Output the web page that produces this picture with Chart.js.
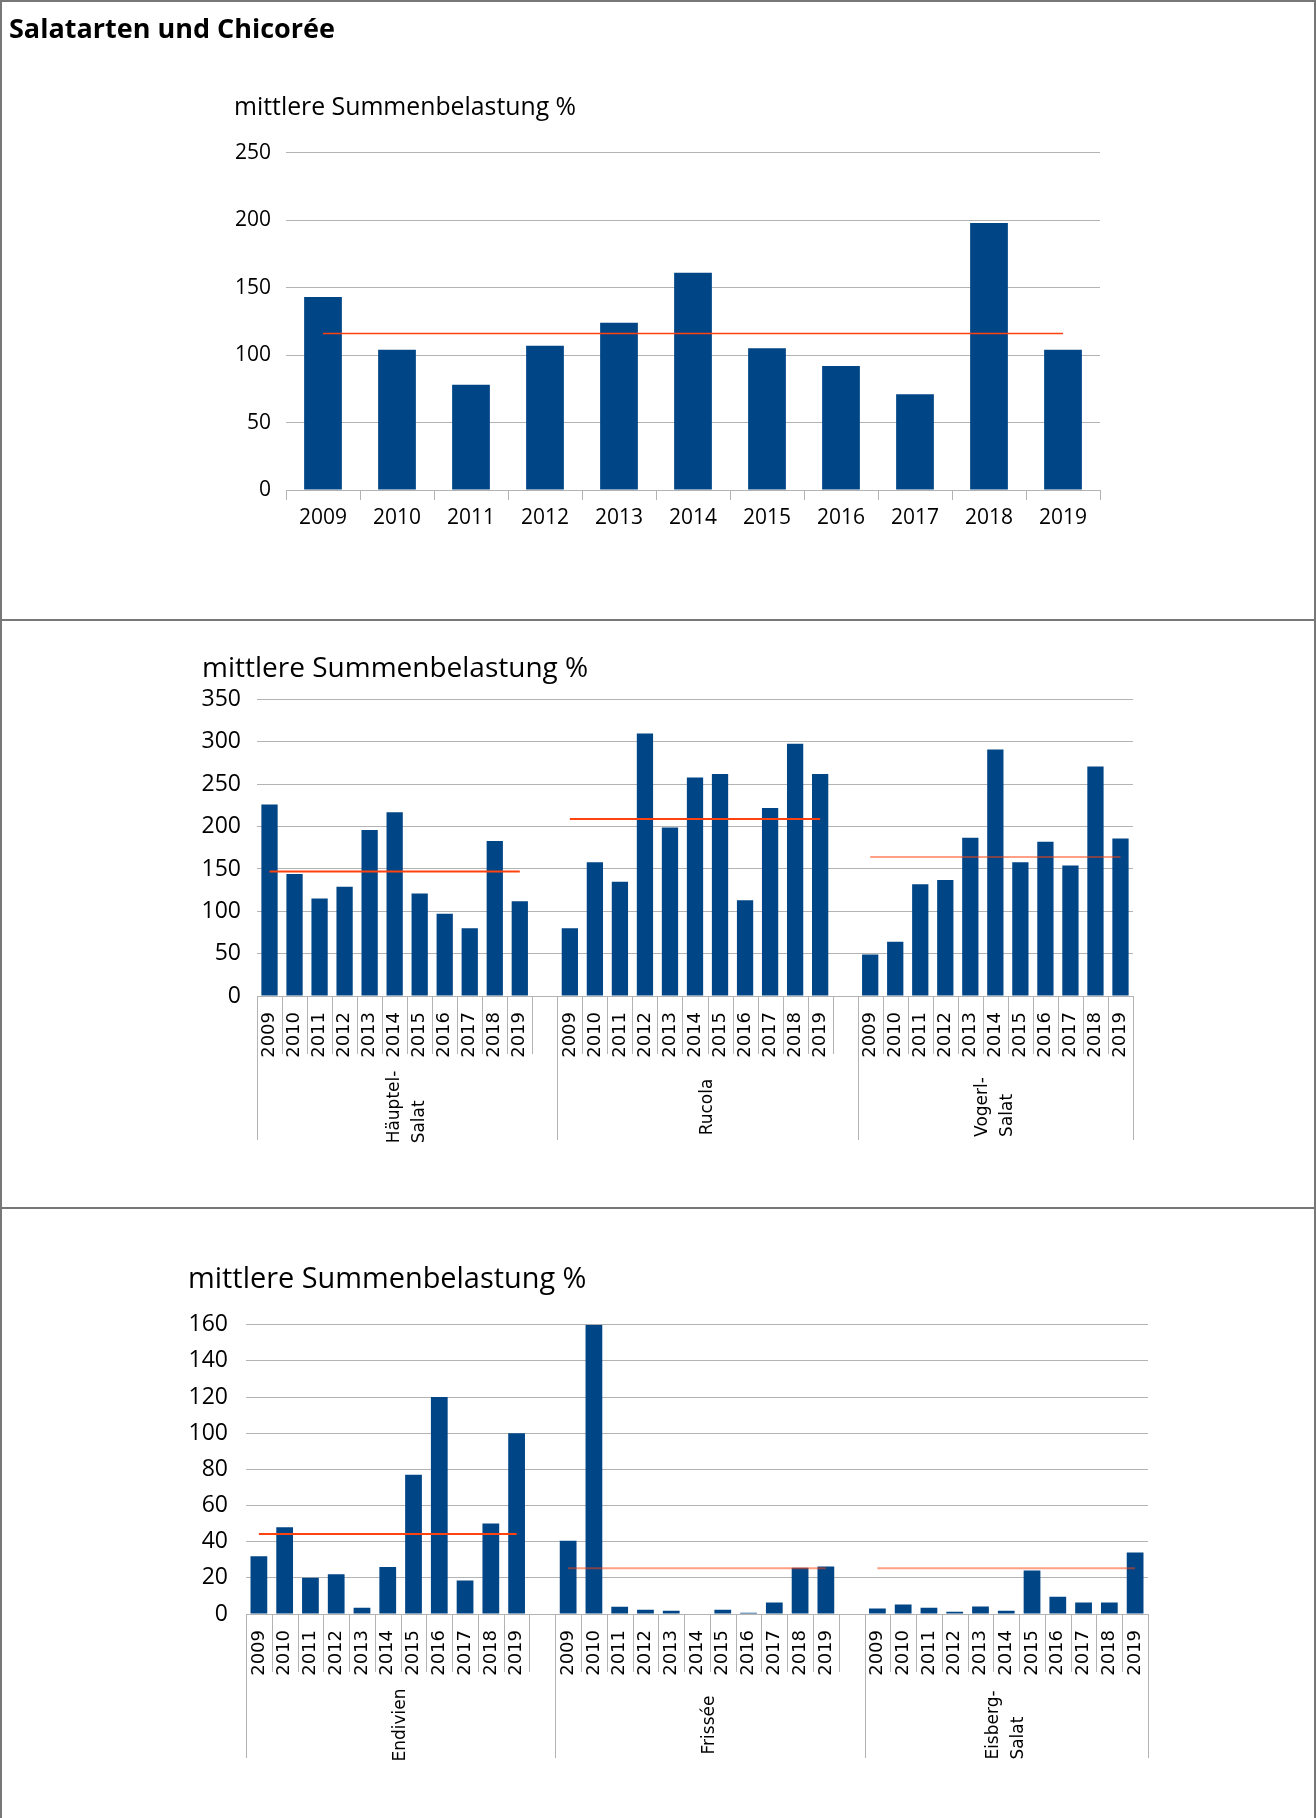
<!DOCTYPE html>
<html lang="de">
<head>
<meta charset="UTF-8">
<title>Salatarten und Chicorée</title>
<style>
  * { margin: 0; padding: 0; box-sizing: border-box; }
  body {
    width: 1316px;
    height: 1818px;
    position: relative;
    overflow: hidden;
    background: #fff;
    font-family: 'Open Sans', sans-serif;
  }
  canvas { position: absolute; left: 0; }
  h1 {
    position: absolute;
    left: 9px;
    top: 13px;
    font-size: 27px;
    line-height: 30px;
    font-weight: 700;
    color: #000;
  }
  .rahmen {
    position: absolute;
    left: 0;
    top: 0;
    width: 1316px;
    height: 1818px;
    border: 2px solid #777;
    border-bottom: none;
    pointer-events: none;
  }
  .trenner {
    position: absolute;
    left: 0;
    width: 1316px;
    height: 2px;
    background: #777;
  }
</style>
</head>
<body>
  <canvas id="chartGesamt" width="1316" height="620" style="top:0"></canvas>
  <canvas id="chartBlatt" width="1316" height="588" style="top:620px"></canvas>
  <canvas id="chartEndivie" width="1316" height="610" style="top:1208px"></canvas>

  <h1>Salatarten und Chicorée</h1>
  <div class="rahmen"></div>
  <div class="trenner" style="top:619px"></div>
  <div class="trenner" style="top:1207px"></div>

<script src="https://cdn.jsdelivr.net/npm/chart.js@4/dist/chart.umd.min.js"></script>
<script>
// Jahre
const jahre = ['2009', '2010', '2011', '2012', '2013', '2014', '2015', '2016', '2017', '2018', '2019'];

// Salatarten gesamt
const gesamt = [143, 104, 78, 107, 124, 161, 105, 92, 71, 198, 104];
const gesamtMittel = 116;

// Häuptel-Salat, Rucola, Vogerl-Salat
const blattGruppen = [['Häuptel-', 'Salat'], ['Rucola'], ['Vogerl-', 'Salat']];
const haeuptel = [226, 144, 115, 129, 196, 217, 121, 97, 80, 183, 112];
const rucola = [80, 158, 135, 310, 199, 258, 262, 113, 222, 298, 262];
const vogerl = [49, 64, 132, 137, 187, 291, 158, 182, 154, 271, 186];
const blattMittel = [147, 209, 164];

// Endivien, Frissée, Eisberg-Salat
const endivGruppen = [['Endivien'], ['Frissée'], ['Eisberg-', 'Salat']];
const endivien = [32, 48, 20, 22, 3.5, 26, 77, 120, 18.5, 50, 100];
const frissee = [40.5, 160, 4, 2.4, 1.8, 0, 2.4, 0.7, 6.3, 25.6, 26.2];
const eisberg = [3, 5.2, 3.5, 1.3, 4.1, 1.8, 24, 9.6, 6.3, 6.3, 34];
const endivMittel = [44.3, 25.3, 25.3];

const BLAU = '#004586';
const ROT = '#ff420e';
const ROT_HALB = 'rgba(255, 66, 14, 0.5)';
const GITTER = '#b3b3b3';
const SCHRIFT = "'Open Sans', sans-serif";
const SCHRIFT_ACHSE = "'DejaVu Sans', sans-serif";

Chart.defaults.color = '#000';
Chart.defaults.animation = false;

// zweistufige Kategorienachse: Zelllinien, Gruppenlinien und Gruppennamen
const gruppenAchse = {
  id: 'gruppenAchse',
  afterDraw(chart, args, opts) {
    if (!opts.gruppen) return;
    const x = chart.scales.x;
    const ctx = chart.ctx;
    const n = chart.data.labels.length;
    const schritt = x.getPixelForValue(1) - x.getPixelForValue(0);
    const kante = i => x.getPixelForValue(i) - schritt / 2;
    const y0 = x.top;
    const proGruppe = jahre.length + 1;

    ctx.save();
    ctx.strokeStyle = GITTER;
    ctx.lineWidth = 1;
    ctx.beginPath();
    for (let i = 0; i <= n; i++) {
      const px = Math.round(kante(i)) + 0.5;
      const tief = (i % proGruppe === 0 || i === n) ? opts.gruppenTiefe : opts.zellTiefe;
      ctx.moveTo(px, y0);
      ctx.lineTo(px, y0 + tief);
    }
    ctx.stroke();

    ctx.fillStyle = '#000';
    ctx.font = '17px ' + SCHRIFT_ACHSE;
    ctx.textBaseline = 'middle';
    ctx.textAlign = 'left';
    opts.gruppen.forEach((zeilen, k) => {
      const a = kante(k * proGruppe);
      const b = kante(Math.min((k + 1) * proGruppe, n));
      const breite = Math.max(...zeilen.map(z => ctx.measureText(z).width));
      ctx.save();
      ctx.translate((a + b) / 2, y0 + opts.namenMitte);
      ctx.rotate(-Math.PI / 2);
      zeilen.forEach((z, j) => {
        ctx.fillText(z, -breite / 2, (j - (zeilen.length - 1) / 2) * 25);
      });
      ctx.restore();
    });
    ctx.restore();
  }
};
Chart.register(gruppenAchse);

// oberes Diagramm: alle Salatarten je Jahr
new Chart(document.getElementById('chartGesamt'), {
  type: 'bar',
  data: {
    labels: jahre,
    datasets: [
      {
        type: 'line',
        data: jahre.map(() => gesamtMittel),
        borderColor: ROT,
        borderWidth: 1.5,
        pointRadius: 0,
        order: 1
      },
      {
        data: gesamt,
        backgroundColor: BLAU,
        barPercentage: 0.51,
        categoryPercentage: 1,
        order: 2
      }
    ]
  },
  options: {
    responsive: false,
    devicePixelRatio: 1,
    layout: { padding: { left: 234, right: 216, top: 93, bottom: 70 } },
    plugins: {
      legend: { display: false },
      tooltip: { enabled: false },
      title: {
        display: true,
        text: 'mittlere Summenbelastung %',
        align: 'start',
        font: { family: SCHRIFT, size: 24.8, weight: 'normal' },
        padding: { top: 0, bottom: 30 }
      }
    },
    scales: {
      x: {
        grid: { drawOnChartArea: false, tickLength: 10, color: GITTER },
        border: { color: GITTER },
        ticks: { font: { family: SCHRIFT, size: 21 }, padding: 5 },
        afterFit: s => { s.height = 60; }
      },
      y: {
        min: 0,
        max: 250,
        ticks: { stepSize: 50, font: { family: SCHRIFT, size: 21 }, padding: 15 },
        grid: { color: GITTER, drawTicks: false },
        border: { display: false },
        afterFit: s => { s.width = 52; }
      }
    }
  }
});

// Diagramm mit drei Gruppen zu je elf Jahren
function gruppenDiagramm(id, reihen, mittel, gruppen, linienFarben, max, schritt, lage) {
  const labels = [];
  const werte = [];
  reihen.forEach((reihe, k) => {
    if (k > 0) { labels.push(''); werte.push(null); }
    jahre.forEach((j, i) => { labels.push(j); werte.push(reihe[i]); });
  });
  const proGruppe = jahre.length + 1;
  const linien = mittel.map((m, k) => ({
    type: 'line',
    data: labels.map((_, i) => (i >= k * proGruppe && i < k * proGruppe + jahre.length) ? m : null),
    borderColor: linienFarben[k],
    borderWidth: 2,
    pointRadius: 0,
    spanGaps: false,
    order: 1
  }));

  return new Chart(document.getElementById(id), {
    type: 'bar',
    data: {
      labels,
      datasets: [
        ...linien,
        {
          data: werte,
          backgroundColor: BLAU,
          barPercentage: 0.65,
          categoryPercentage: 1,
          order: 2
        }
      ]
    },
    options: {
      responsive: false,
      devicePixelRatio: 1,
      layout: { padding: lage.padding },
      plugins: {
        legend: { display: false },
        tooltip: { enabled: false },
        title: {
          display: true,
          text: 'mittlere Summenbelastung %',
          align: 'start',
          font: { family: SCHRIFT, size: lage.titelGroesse, weight: 'normal' },
          padding: { top: 0, bottom: lage.titelAbstand }
        },
        gruppenAchse: { gruppen, zellTiefe: 58, gruppenTiefe: 144, namenMitte: 111 }
      },
      scales: {
        x: {
          grid: { display: false, drawTicks: false },
          border: { color: GITTER },
          ticks: {
            font: { family: SCHRIFT_ACHSE, size: 18 },
            minRotation: 90,
            maxRotation: 90,
            autoSkip: false,
            padding: 16
          },
          afterFit: s => { s.height = 170; }
        },
        y: {
          min: 0,
          max,
          ticks: { stepSize: schritt, font: { family: SCHRIFT, size: lage.tickGroesse }, padding: lage.tickAbstand },
          grid: { color: GITTER, drawTicks: false },
          border: { display: false },
          afterFit: s => { s.width = lage.achsenBreite; }
        }
      }
    }
  });
}

gruppenDiagramm('chartBlatt', [haeuptel, rucola, vogerl], blattMittel, blattGruppen,
  [ROT, ROT, ROT_HALB], 350, 50, {
    padding: { left: 202, right: 183, top: 32, bottom: 42 },
    titelGroesse: 28,
    titelAbstand: 14,
    tickGroesse: 23,
    tickAbstand: 16,
    achsenBreite: 55
  });

gruppenDiagramm('chartEndivie', [endivien, frissee, eisberg], endivMittel, endivGruppen,
  [ROT, ROT_HALB, ROT_HALB], 160, 20, {
    padding: { left: 188, right: 168, top: 54, bottom: 34 },
    titelGroesse: 28.9,
    titelAbstand: 28,
    tickGroesse: 23,
    tickAbstand: 18,
    achsenBreite: 58
  });
</script>
</body>
</html>
